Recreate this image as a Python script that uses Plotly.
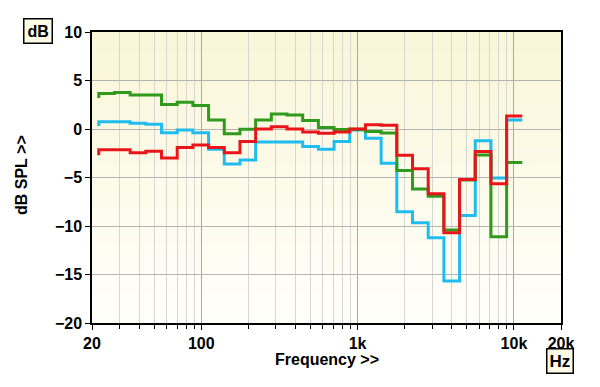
import math
import plotly.graph_objects as go

# 1/3-octave band centres (Hz)
band_centres = [25, 31.5, 40, 50, 63, 80, 100, 125, 160, 200, 250, 315, 400, 500,
                630, 800, 1000, 1250, 1600, 2000, 2500, 3150, 4000, 5000, 6300, 8000, 10000]

# level per band (dB SPL)
green_db = [3.66, 3.76, 3.5, 3.5, 2.53, 2.77, 2.43, 0.92, -0.48, -0.03, 0.92, 1.55, 1.44, 0.87,
            0.15, -0.05, -0.03, -0.27, -0.4, -4.27, -6.18, -6.94, -10.4, -5.25, -2.67, -11.1, -3.45]
cyan_db = [0.75, 0.75, 0.58, 0.48, -0.38, -0.1, -0.38, -2.1, -3.6, -3.2, -1.35, -1.35, -1.35, -1.8,
           -2.1, -1.3, -0.1, -0.95, -3.52, -8.54, -9.67, -11.2, -15.66, -8.92, -1.2, -5.06, 0.92]
red_db = [-2.15, -2.15, -2.45, -2.3, -3.0, -1.9, -1.65, -1.9, -2.45, -1.3, 0.0, 0.24, 0.0, -0.3,
          -0.45, -0.3, 0.0, 0.45, 0.38, -2.7, -4.1, -6.67, -10.7, -5.2, -2.33, -5.64, 1.33]
start_db = {"green": 3.2, "cyan": 0.3, "red": -2.7}

x_tick_vals = [20, 100, 1000, 10000, 20000]
x_tick_text = ["20", "100", "1k", "10k", "20k"]
y_tick_vals = [-20, -15, -10, -5, 0, 5, 10]


def exact(c):
    n = round(3 * math.log2(c / 1000.0))
    return 1000.0 * 2 ** (n / 3.0)


lower_edges = [exact(c) * 2 ** (-1 / 6) for c in band_centres]
upper_last = exact(band_centres[-1]) * 2 ** (1 / 6)


def step_xy(vals, start):
    xs = [lower_edges[0]] + lower_edges + [upper_last]
    ys = [start] + vals + [vals[-1]]
    return xs, ys


fig = go.Figure()

# gradient plot background (cream at top, white at bottom)
n_strips = 40
top_rgb = (250, 246, 216)
bot_rgb = (255, 255, 250)
for i in range(n_strips):
    t = i / (n_strips - 1)
    r = round(bot_rgb[0] + (top_rgb[0] - bot_rgb[0]) * t)
    g = round(bot_rgb[1] + (top_rgb[1] - bot_rgb[1]) * t)
    b = round(bot_rgb[2] + (top_rgb[2] - bot_rgb[2]) * t)
    fig.add_shape(type="rect", xref="x domain", yref="y domain",
                  x0=0, x1=1, y0=i / n_strips, y1=(i + 1) / n_strips + 0.002,
                  fillcolor=f"rgb({r},{g},{b})", line=dict(width=0), layer="below")

for name, vals, col in [("cyan", cyan_db, "#1fbcef"), ("green", green_db, "#2f9a1c"),
                        ("red", red_db, "#e8161a")]:
    xs, ys = step_xy(vals, start_db[name])
    fig.add_trace(go.Scatter(x=xs, y=ys, mode="lines", line=dict(color=col, width=3, shape="hv"),
                             showlegend=False, hoverinfo="skip"))

minor_vals = []
for dec in [10, 100, 1000]:
    for m in range(2, 10):
        v = m * dec
        if 20 < v < 20000 and v not in (100, 1000, 10000):
            minor_vals.append(v)

FONT = "Liberation Sans, Arial, sans-serif"
bold = dict(family=FONT, size=16, color="black", weight="bold")

fig.update_xaxes(type="log", range=[math.log10(20), math.log10(20000)], tickmode="array",
                 tickvals=x_tick_vals, ticktext=x_tick_text, ticks="outside", ticklen=5,
                 tickcolor="black", showgrid=True, gridcolor="#a9a9a9", gridwidth=1,
                 showline=True, linecolor="black", linewidth=1.5, mirror=True,
                 tickfont=bold, zeroline=False,
                 minor=dict(tickmode="array", tickvals=minor_vals, ticks="outside", ticklen=4,
                            tickcolor="black", showgrid=True, gridcolor="#d6d6d2", gridwidth=1))
fig.update_yaxes(range=[-20, 10], tickmode="array", tickvals=y_tick_vals, ticks="outside",
                 ticklen=5, tickcolor="black", showgrid=True, gridcolor="#b4b4b4", gridwidth=1,
                 showline=True, linecolor="black", linewidth=1.5, mirror=True, tickfont=bold,
                 zeroline=False)

fig.add_annotation(text="Frequency >>", xref="paper", yref="paper", x=0.5, y=-0.127,
                   xanchor="center", yanchor="middle", showarrow=False, font=bold)
fig.add_annotation(text="dB SPL >>", xref="paper", yref="paper", x=-0.149, y=0.509,
                   xanchor="center", yanchor="middle", textangle=-90, showarrow=False, font=bold)
fig.add_annotation(text="dB", xref="paper", yref="paper", x=-0.115, y=1.005,
                   xanchor="center", yanchor="middle", showarrow=False,
                   font=dict(family=FONT, size=16, color="black", weight="bold"),
                   bgcolor="#fdfbe6", bordercolor="black", borderwidth=1.5, borderpad=3)
fig.add_annotation(text="Hz", xref="paper", yref="paper", x=0.997, y=-0.132,
                   xanchor="center", yanchor="middle", showarrow=False,
                   font=dict(family=FONT, size=17, color="black", weight="bold"),
                   bgcolor="#fdfbe6", bordercolor="black", borderwidth=1.5, borderpad=2)

# the page adds an 8px body margin, so the figure is 8px smaller on each axis
fig.update_layout(width=592, height=379, margin=dict(l=84, r=39, t=24, b=64),
                  paper_bgcolor="white", plot_bgcolor="#fffff5", showlegend=False)

fig.write_html("out.html")
